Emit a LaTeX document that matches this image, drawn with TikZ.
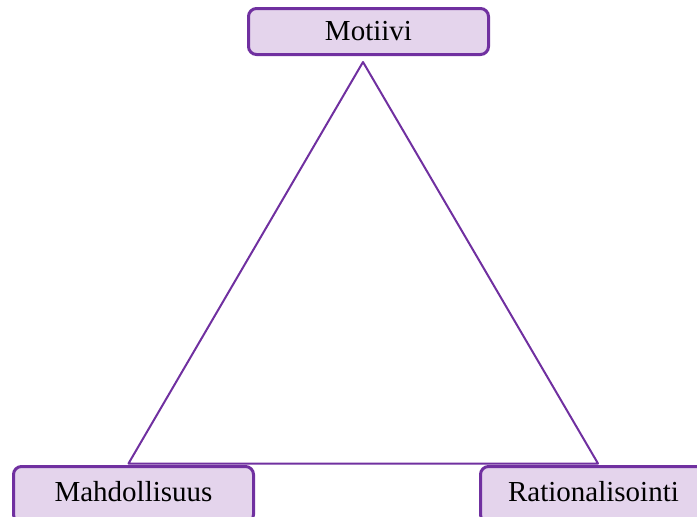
\documentclass[tikz,border=0pt]{standalone}
\usepackage{fontspec}
\setmainfont{Liberation Serif}
\usetikzlibrary{positioning}
\definecolor{boxpurple}{HTML}{7030A0}
\definecolor{boxfill}{HTML}{E4D4EC}

\begin{document}
\begin{tikzpicture}[x=1pt, y=-1pt, node font=\fontsize{29}{34}\selectfont,
    corner/.style={draw=boxpurple, fill=boxfill, line width=3pt, rounded corners=8pt, minimum width=240pt, minimum height=46pt, inner sep=0pt},
    base/.style={corner, minimum height=56pt, text depth=7pt}]
    \useasboundingbox (0,0) rectangle (697,517);
    \node[corner] (motiivi) at (368.5,31.5) {Motiivi};
    \node[base] (mahd) at (133.5,494.5) {Mahdollisuus};
    \node[base, minimum width=226pt] (rat) at (593.5,494.5) {Rationalisointi};
    \coordinate (apex) at ([xshift=-5.5pt, yshift=-6pt]motiivi.south);
    \coordinate (left) at ([xshift=-5pt, yshift=1.5pt]mahd.north);
    \coordinate (right) at ([xshift=4.5pt, yshift=1.5pt]rat.north);
    \draw[boxpurple, line width=2pt, line join=round] (apex) -- (left) -- (right) -- cycle;
\end{tikzpicture}
\end{document}
